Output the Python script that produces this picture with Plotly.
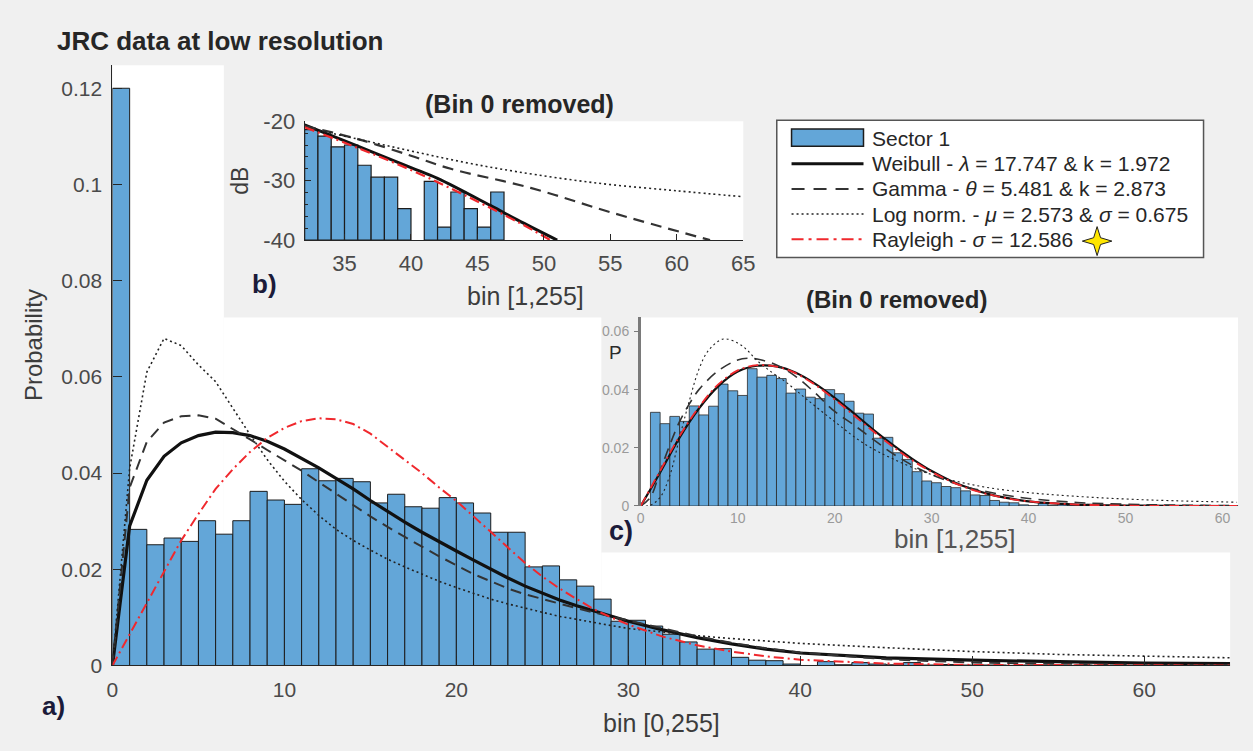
import plotly.graph_objects as go

W, H = 1253, 751


def fx(p):
    return p / W


def fy(p):
    return 1 - p / H


# ---------------- data ----------------
# a) full histogram, bins [k, k+1]
main_bins = list(range(0, 65))
main_prob = [
    0.1200, 0.0283, 0.0251, 0.0265, 0.0258, 0.0301, 0.0273, 0.0301, 0.0362, 0.0344, 0.0335,
    0.0409, 0.0384, 0.0389, 0.0382, 0.0338, 0.0356, 0.0330, 0.0327, 0.0349, 0.0338,
    0.0317, 0.0277, 0.0277, 0.0205, 0.0207, 0.0178, 0.0165, 0.0138, 0.0092, 0.0094,
    0.0082, 0.0065, 0.0049, 0.0034, 0.0035, 0.0017, 0.0011, 0.0010, 0.0003, 0.0,
    0.0008, 0.00015, 0.0006, 0.0003, 0.00015, 0.0006,
    0.0001, 0.0002, 0.0001, 0.0001, 0.0001, 0.0, 0.0001, 0.0001, 0.0, 0.0001,
    0.0, 0.0001, 0.0, 0.0, 0.0001, 0.0, 0.0, 0.0,
]

main_fit_x = list(range(0, 31)) + [32, 34, 36, 38, 40, 45, 50, 55, 60, 65]
main_weibull = [
    0, 0.0290, 0.0385, 0.0435, 0.0463, 0.0478, 0.0485, 0.0484, 0.0478, 0.0466, 0.0450,
    0.0431, 0.0411, 0.0389, 0.0367, 0.0343, 0.0320, 0.0298, 0.0277, 0.0257, 0.0238,
    0.0219, 0.0200, 0.0182, 0.0165, 0.0150, 0.0136, 0.0124, 0.0113, 0.0102, 0.0092,
    0.0074, 0.0058, 0.0045, 0.0034, 0.0026, 0.0016, 0.0011, 0.0008, 0.0005, 0.0004,
]
main_gamma = [
    0, 0.0370, 0.0465, 0.0505, 0.0518, 0.0520, 0.0513, 0.0492, 0.0470, 0.0448, 0.0427,
    0.0405, 0.0381, 0.0357, 0.0333, 0.0310, 0.0288, 0.0267, 0.0247, 0.0227, 0.0208,
    0.0190, 0.0175, 0.0160, 0.0148, 0.0138, 0.0128, 0.0119, 0.0110, 0.0102, 0.0094,
    0.0077, 0.0061, 0.0047, 0.0036, 0.0027, 0.0013, 0.0006, 0.0003, 0.00015, 0.0001,
]
main_lognorm = [
    0, 0.0410, 0.0610, 0.0680, 0.0665, 0.0625, 0.0590, 0.0535, 0.0480, 0.0428, 0.0383,
    0.0345, 0.0312, 0.0283, 0.0260, 0.0240, 0.0221, 0.0205, 0.0190, 0.0175, 0.0162,
    0.0150, 0.0138, 0.0128, 0.0119, 0.0110, 0.0102, 0.0096, 0.0089, 0.0083, 0.0077,
    0.0069, 0.0062, 0.0056, 0.0051, 0.0046, 0.0037, 0.0029, 0.0023, 0.0019, 0.0016,
]
main_rayleigh = [
    0, 0.0065, 0.0130, 0.0195, 0.0260, 0.0315, 0.0367, 0.0408, 0.0444, 0.0473, 0.0494,
    0.0508, 0.0514, 0.0512, 0.0502, 0.0482, 0.0455, 0.0428, 0.0400, 0.0370, 0.0342,
    0.0310, 0.0278, 0.0245, 0.0213, 0.0185, 0.0160, 0.0138, 0.0117, 0.0100, 0.0085,
    0.0060, 0.0042, 0.0029, 0.0019, 0.0012, 0.0004, 0.00012, 0.00004, 0.00001, 0.0,
]

# b) tail in dB, bin 0 removed
b_bins = list(range(32, 47))
b_db = [-21.4, -22.5, -24.3, -24.0, -27.4, -29.4, -29.4, -34.7, None,
        -30.1, -37.8, -31.9, -34.7, -37.8, -31.9]
b_weib_x = [32, 36, 40, 42, 46, 48, 51]
b_weib_db = [-20.6, -24.2, -27.8, -29.6, -34.2, -36.6, -40.0]
b_gam_x = [32, 36, 40, 43, 49, 55, 62.5]
b_gam_db = [-20.8, -23.0, -25.8, -28.0, -31.2, -35.3, -40.0]
b_logn_x = [32, 36, 40, 44, 48, 54, 60, 65]
b_logn_db = [-21.0, -23.0, -25.0, -26.9, -28.5, -30.4, -31.7, -32.7]
b_ray_x = [32, 36, 40, 44, 48, 50.5]
b_ray_db = [-21.0, -24.5, -28.2, -32.4, -36.9, -40.0]
b_db_ticks = [-40, -30, -20]
b_db_ticktext = ["-40", "-30", "-20"]

# c) histogram with bin 0 removed
c_bins = list(range(1, 62))
c_prob = [
    0.0322, 0.0283, 0.0308, 0.0291, 0.0344, 0.0313, 0.0343, 0.0419, 0.0396, 0.0380,
    0.0472, 0.0443, 0.0449, 0.0438, 0.0388, 0.0402, 0.0374, 0.0369, 0.0400, 0.0386,
    0.0360, 0.0319, 0.0316, 0.0233, 0.0236, 0.0183, 0.0160, 0.0118, 0.0086, 0.0080,
    0.0067, 0.0063, 0.0052, 0.0038, 0.0036, 0.0019, 0.0013, 0.0011, 0.0004, 0.0001,
    0.0009, 0.0002, 0.0006, 0.0003, 0.0002, 0.0006, 0.0001, 0.0002, 0.0001, 0.0001,
    0.0001, 0.0, 0.0001, 0.0001, 0.0, 0.0001, 0.0, 0.0001, 0.0, 0.0, 0.0001,
]
c_fit_x = [0, 2, 4, 6, 8, 10, 12, 14, 16, 18, 20, 22, 24, 26, 28, 30, 32, 34, 36, 38,
           40, 45, 50, 55, 61.5]
c_weibull = [0, 0.0115, 0.0235, 0.0335, 0.0412, 0.0462, 0.0482, 0.0480, 0.0458, 0.0420,
             0.0372, 0.0318, 0.0262, 0.0210, 0.0162, 0.0120, 0.0086, 0.0060, 0.0040, 0.0026,
             0.0016, 0.0005, 0.00015, 0.00004, 0.0]
c_rayleigh = [0, 0.0121, 0.0240, 0.0340, 0.0418, 0.0466, 0.0484, 0.0479, 0.0456, 0.0416,
              0.0366, 0.0311, 0.0256, 0.0204, 0.0157, 0.0117, 0.0084, 0.0058, 0.0039, 0.0025,
              0.0016, 0.0005, 0.00012, 0.00002, 0.0]
c_gam_x = [0, 1, 2, 3, 4, 5, 6, 8, 10, 11, 12, 14, 16, 18, 20, 22, 24, 26, 28, 30, 32,
           34, 36, 38, 40, 45, 50, 55, 61.5]
c_gamma = [0, 0.003, 0.012, 0.021, 0.029, 0.035, 0.040, 0.0465, 0.0502, 0.0508, 0.0505,
           0.0485, 0.0445, 0.0388, 0.0325, 0.0278, 0.0228, 0.0180, 0.0140, 0.0108, 0.0082,
           0.0062, 0.0047, 0.0035, 0.0026, 0.0012, 0.0006, 0.0003, 0.0001]
c_logn_x = [0, 1, 2, 3, 4, 5, 6, 7, 8.5, 10, 11, 12, 13.5, 15, 17, 20, 23, 26, 30, 35,
            40, 45, 50, 55, 61.5]
c_lognorm = [0, 0.0003, 0.003, 0.0105, 0.0235, 0.0360, 0.0470, 0.0535, 0.0574, 0.0560,
             0.0535, 0.0500, 0.0460, 0.0425, 0.0370, 0.0290, 0.0215, 0.0162, 0.0108, 0.0068,
             0.0046, 0.0033, 0.0024, 0.0018, 0.0013]

legend_labels = [
    "Sector 1",
    "Weibull - <i>λ</i> = 17.747 &amp; k = 1.972",
    "Gamma - <i>θ</i> = 5.481 &amp; k = 2.873",
    "Log norm. - <i>μ</i> = 2.573 &amp; <i>σ</i> = 0.675",
    "Rayleigh - <i>σ</i> = 12.586",
]

# ---------------- styles ----------------
FONT = "Liberation Sans, Arial, sans-serif"
BAR_FILL = "#63a6d8"
BAR_EDGE = "#1c1c1c"
TXT = "#262626"
TICK_TXT = "#4a4a4a"
RED = "#f0282d"

DASH = "11px,7px"
DOT = "2px,3px"
DASHDOT = "10px,4px,2px,4px"
FIT_STYLES = [("#111111", "solid"), ("#333333", DASH), ("#222222", DOT), (RED, DASHDOT)]

fig = go.Figure()


def add_fits(xa, ya, sets, widths, shape):
    for (xs, ys), (col, dash), w in zip(sets, FIT_STYLES, widths):
        fig.add_trace(go.Scatter(
            x=xs, y=ys, mode="lines", xaxis=xa, yaxis=ya, showlegend=False,
            line=dict(color=col, dash=dash, width=w, shape=shape),
            hoverinfo="skip"))


# a) main panel
fig.add_trace(go.Bar(
    x=main_bins, y=main_prob, width=1, offset=0, xaxis="x", yaxis="y",
    marker=dict(color=BAR_FILL, line=dict(color=BAR_EDGE, width=1)),
    showlegend=False))
add_fits("x", "y",
         [(main_fit_x, main_weibull), (main_fit_x, main_gamma),
          (main_fit_x, main_lognorm), (main_fit_x, main_rayleigh)],
         [3.2, 2.0, 1.6, 2.0], "linear")

# b) dB tail panel (bars rise from the -40 dB floor)
fig.add_trace(go.Bar(
    x=b_bins, y=[None if v is None else v + 40 for v in b_db], base=-40,
    width=1, offset=0, xaxis="x2", yaxis="y2",
    marker=dict(color=BAR_FILL, line=dict(color=BAR_EDGE, width=1.2)),
    showlegend=False))
add_fits("x2", "y2",
         [(b_weib_x, b_weib_db), (b_gam_x, b_gam_db),
          (b_logn_x, b_logn_db), (b_ray_x, b_ray_db)],
         [3.0, 2.2, 1.6, 2.2], "spline")

# c) bin-0-removed panel
fig.add_trace(go.Bar(
    x=c_bins, y=c_prob, width=1, offset=0, xaxis="x3", yaxis="y3",
    marker=dict(color=BAR_FILL, line=dict(color="#2a2a2a", width=0.8)),
    showlegend=False))
add_fits("x3", "y3",
         [(c_fit_x, c_weibull), (c_gam_x, c_gamma),
          (c_logn_x, c_lognorm), (c_fit_x, c_rayleigh)],
         [2.2, 1.6, 1.1, 1.8], "spline")

axis_common = dict(showgrid=False, zeroline=False, showline=True, ticks="inside",
                   linecolor=TXT, tickcolor=TXT, fixedrange=True)

fig.update_layout(
    width=W, height=H,
    margin=dict(l=0, r=0, t=0, b=0),
    paper_bgcolor="#f0f0f0",
    plot_bgcolor="rgba(0,0,0,0)",
    font=dict(family=FONT, color=TXT),
    showlegend=False,
    barmode="overlay",
    xaxis=dict(domain=[fx(108), fx(1242)], range=[0, 65], anchor="y",
               tickvals=[0, 10, 20, 30, 40, 50, 60], ticklen=9, linewidth=1.2,
               tickfont=dict(size=21, color=TICK_TXT), ticklabelstandoff=5,
               **axis_common),
    yaxis=dict(domain=[fy(676), fy(55)], range=[0, 0.1248], anchor="x",
               tickvals=[0, 0.02, 0.04, 0.06, 0.08, 0.1, 0.12],
               ticktext=["0", "0.02", "0.04", "0.06", "0.08", "0.1", "0.12"],
               ticklen=9, linewidth=1.2, ticklabelstandoff=5,
               tickfont=dict(size=21, color=TICK_TXT), **axis_common),
    xaxis2=dict(domain=[fx(303), fx(748)], range=[32, 65], anchor="y2",
                tickvals=[35, 40, 45, 50, 55, 60, 65], ticklen=6, linewidth=1.2,
                tickfont=dict(size=22, color=TICK_TXT), ticklabelstandoff=3,
                **axis_common),
    yaxis2=dict(domain=[fy(236), fy(113)], range=[-40, -20], anchor="x2",
                tickvals=b_db_ticks, ticktext=b_db_ticktext, ticklen=6, linewidth=1.2,
                tickfont=dict(size=22, color=TICK_TXT), ticklabelstandoff=4,
                minor=dict(ticks="inside", ticklen=3, dtick=2, tickcolor=TXT),
                **axis_common),
    xaxis3=dict(domain=[fx(644), fx(1250)], range=[0, 61.6], anchor="y3",
                tickvals=[0, 10, 20, 30, 40, 50, 60], showgrid=False, zeroline=False,
                showline=False, ticks="", fixedrange=True,
                tickfont=dict(size=14, color="#9a9a9a"), ticklabelstandoff=2),
    yaxis3=dict(domain=[fy(511), fy(316)], range=[0, 0.0648], anchor="x3",
                tickvals=[0, 0.02, 0.04, 0.06], ticktext=["0", "0.02", "0.04", "0.06"],
                showgrid=False, zeroline=False, showline=True, linecolor="#7a7a7a",
                linewidth=2.5, ticks="outside", ticklen=4, tickcolor="#7a7a7a",
                fixedrange=True, tickfont=dict(size=14, color="#9a9a9a"),
                ticklabelstandoff=2),
)


def rect(x0, y0, x1, y1, fill, line_color=None, lw=0, layer="below"):
    return dict(type="rect", xref="paper", yref="paper", layer=layer,
                x0=fx(x0), x1=fx(x1), y0=fy(y1), y1=fy(y0),
                fillcolor=fill, line=dict(color=line_color or fill, width=lw))


shapes = [
    # white plotting area of panel a) that stays uncovered by the inset panels
    rect(108, 55, 221, 676, "white"),
    rect(221, 316, 604, 676, "white"),
    rect(604, 559, 1242, 676, "white"),
    # inset plotting areas
    rect(303, 113, 748, 236, "white"),
    rect(644, 316, 1250, 511, "white"),
    # legend box
    rect(782, 112, 1215, 254, "white", "#555555", 1.5, layer="above"),
    rect(797, 121, 870, 139, BAR_FILL, "#1c1c1c", 1.5, layer="above"),
]

legend_rows = [131, 157, 183, 209, 235]
legend_lines = [("#111111", "solid", 3.2), ("#333333", "13px,9px", 2.0),
                ("#222222", "2px,3px", 1.4), (RED, "12px,5px,3px,5px", 2.0)]
for yy, (col, dash, w) in zip(legend_rows[1:], legend_lines):
    shapes.append(dict(type="line", xref="paper", yref="paper", layer="above",
                       x0=fx(797), x1=fx(870), y0=fy(yy), y1=fy(yy),
                       line=dict(color=col, dash=dash, width=w)))

# four-pointed yellow star beside the Rayleigh entry
cx, cy, ro, ri = 1107, 237, 15, 3.5
pts = [(cx, cy - ro), (cx + ri, cy - ri), (cx + ro, cy), (cx + ri, cy + ri),
       (cx, cy + ro), (cx - ri, cy + ri), (cx - ro, cy), (cx - ri, cy - ri)]
path = "M " + " L ".join(f"{fx(a):.5f},{fy(b):.5f}" for a, b in pts) + " Z"
shapes.append(dict(type="path", xref="paper", yref="paper", layer="above", path=path,
                   fillcolor="#ffe600", line=dict(color="#222222", width=1)))

fig.update_layout(shapes=shapes)


def ann(text, x, y, size, bold=False, color=TXT, xanchor="center", yanchor="middle",
        angle=0):
    return dict(text=f"<b>{text}</b>" if bold else text, x=fx(x), y=fy(y),
                xref="paper", yref="paper", showarrow=False, xanchor=xanchor,
                yanchor=yanchor, textangle=angle,
                font=dict(size=size, color=color, family=FONT))


annotations = [
    ann("JRC data at low resolution", 50, 30, 26, bold=True, xanchor="left"),
    ann("Probability", 28, 345, 24, color="#3c3c3c", angle=-90),
    ann("bin [0,255]", 665, 735, 25, color="#3c3c3c"),
    ann("a)", 34, 718, 26, bold=True, color="#1b1b3a", xanchor="left"),
    ann("(Bin 0 removed)", 521, 95, 25, bold=True),
    ann("dB", 238, 175, 23, color="#3c3c3c", angle=-90),
    ann("bin [1,255]", 527, 294, 25, color="#3c3c3c"),
    ann("b)", 248, 281, 26, bold=True, color="#1b1b3a", xanchor="left"),
    ann("(Bin 0 removed)", 903, 297, 24, bold=True),
    ann("P", 618, 352, 19, color="#2b2b2b"),
    ann("bin [1,255]", 962, 545, 26, color="#555555"),
    ann("c)", 610, 537, 27, bold=True, color="#1b1b3a", xanchor="left"),
]
for yy, label in zip(legend_rows, legend_labels):
    annotations.append(ann(label, 877, yy, 21, xanchor="left"))

fig.update_layout(annotations=annotations)

fig.write_html("out.html")
